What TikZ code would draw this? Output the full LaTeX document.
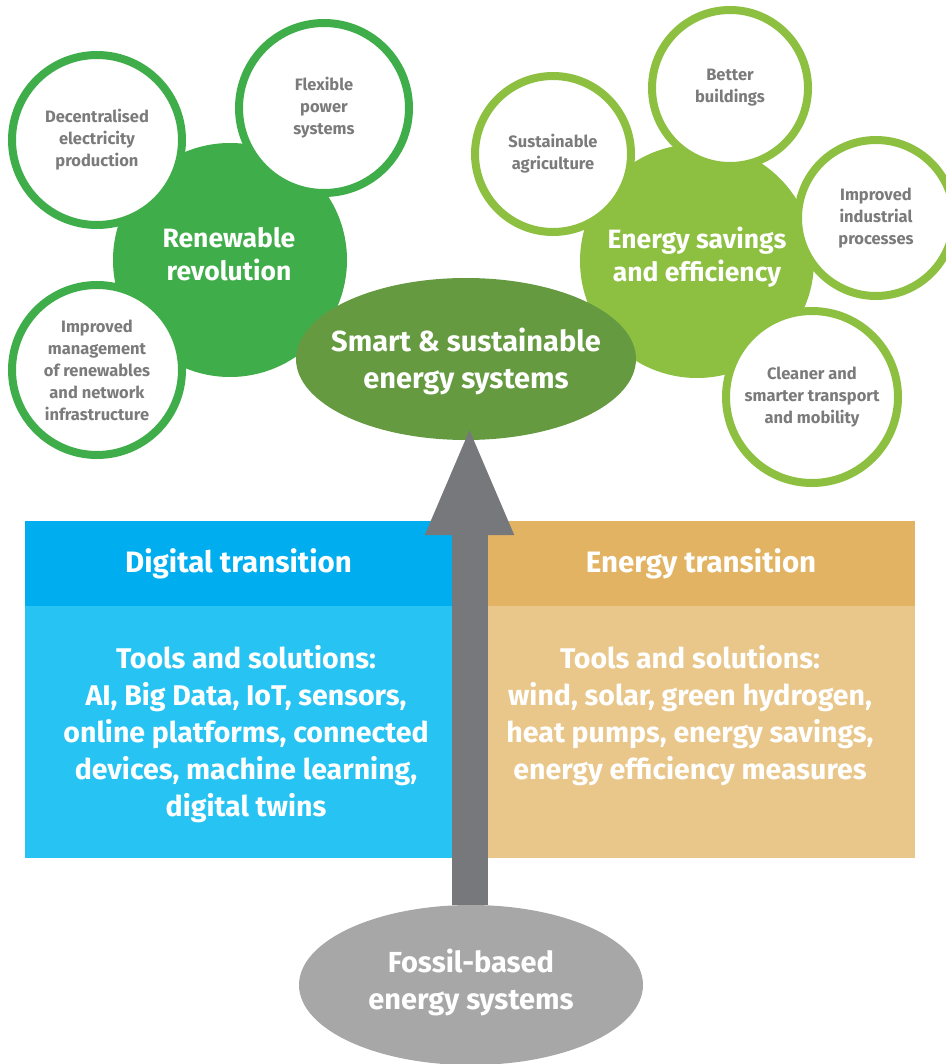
\documentclass[tikz,border=0pt]{standalone}
\usepackage{fontspec}
\setmainfont{Fira Sans}
\usetikzlibrary{shapes.geometric,arrows.meta}

\definecolor{renewgreen}{HTML}{3FAE4A}
\definecolor{savegreen}{HTML}{8DC041}
\definecolor{smartgreen}{HTML}{659A41}
\definecolor{bubbletext}{HTML}{7B7B7B}
\definecolor{digihead}{HTML}{00AEEF}
\definecolor{digibody}{HTML}{27C4F3}
\definecolor{enerhead}{HTML}{E3B364}
\definecolor{enerbody}{HTML}{E9C68A}
\definecolor{arrowgray}{HTML}{77787B}
\definecolor{fossilgray}{HTML}{A7A7A7}

\begin{document}
\begin{tikzpicture}[x=1pt,y=-1pt,
    hub/.style={circle,inner sep=0pt,minimum size=234pt,text=white,align=center,
      font=\fontsize{26.5}{33}\selectfont\bfseries},
    bubble/.style={circle,draw=#1,line width=8pt,fill=white,inner sep=0pt,
      text=bubbletext,align=center,font=\fontsize{16.5}{22}\selectfont\bfseries},
    blob/.style={ellipse,inner sep=0pt},
    blobtext/.style={text=white,align=center,font=\fontsize{29}{37}\selectfont\bfseries},
    panel/.style={rectangle,inner sep=0pt,minimum width=428pt},
    paneltext/.style={text=white,align=center,font=\fontsize{28.5}{37}\selectfont\bfseries},
    bigarrow/.style={draw=arrowgray,line width=36pt,
      -{Triangle[length=110pt,width=80pt,fill=arrowgray]}}]
    \useasboundingbox (0,0) rectangle (945,1064);

    % lower half: two transitions
    \node[panel,fill=digihead,minimum height=85pt,paneltext,font=\fontsize{29.5}{34}\selectfont\bfseries] (dighead) at (238.5,563.5) {Digital transition};
    \node[panel,fill=digibody,minimum height=252pt,anchor=north] (digbody) at (dighead.south) {};
    \node[paneltext,anchor=north] (digtext) at (246,642) {Tools and solutions:\\AI, Big Data, IoT, sensors,\\online platforms, connected\\devices, machine learning,\\digital twins};

    \node[panel,fill=enerhead,minimum height=85pt,paneltext,font=\fontsize{29.5}{34}\selectfont\bfseries] (enhead) at (701,563.5) {Energy transition};
    \node[panel,fill=enerbody,minimum height=252pt,anchor=north] (enbody) at (enhead.south) {};
    \node[paneltext,anchor=north] (entext) at (690,642) {Tools and solutions:\\wind, solar, green hydrogen,\\heat pumps, energy savings,\\energy efficiency measures};

    % hubs
    \node[hub,fill=renewgreen] (renew) at (230,260) {};
    \node[hub] (renewtext) at (229,254) {Renewable\\revolution};
    \node[hub,fill=savegreen] (saving) at (697,261) {};
    \node[hub] (savingtext) at (697,257) {Energy savings\\and efficiency};

    \node[bubble=renewgreen,minimum size=170pt] (decent) at (97,140) {Decentralised\\electricity\\production};
    \node[bubble=renewgreen,minimum size=170pt] (flex) at (324,108) {Flexible\\power\\systems};
    \node[bubble=renewgreen,minimum size=170pt] (manage) at (97,370) {Improved\\management\\of renewables\\and network\\infrastructure};

    \node[bubble=savegreen,minimum size=156pt] (agri) at (553,154) {Sustainable\\agriculture};
    \node[bubble=savegreen,minimum size=156pt] (build) at (730,88) {Better\\buildings};
    \node[bubble=savegreen,minimum size=156pt] (indus) at (876,218) {Improved\\industrial\\processes};
    \node[bubble=savegreen,minimum size=172pt] (trans) at (812,397) {Cleaner and\\smarter transport\\and mobility};

    \node[blob,fill=smartgreen,minimum width=340pt,minimum height=162pt] (smart) at (466,359) {};
    \node[blobtext,yshift=-2pt] (smarttext) at (smart) {Smart \& sustainable\\energy systems};

    \node[blob,fill=fossilgray,minimum width=344pt,minimum height=160pt] (fossil) at (471,985) {};
    \node[blobtext,yshift=3pt] (fossiltext) at (fossil) {Fossil-based\\energy systems};

    \coordinate (tip) at (469.5,425);
    \draw[bigarrow] (fossil.north -| tip) -- (tip);

\end{tikzpicture}
\end{document}
